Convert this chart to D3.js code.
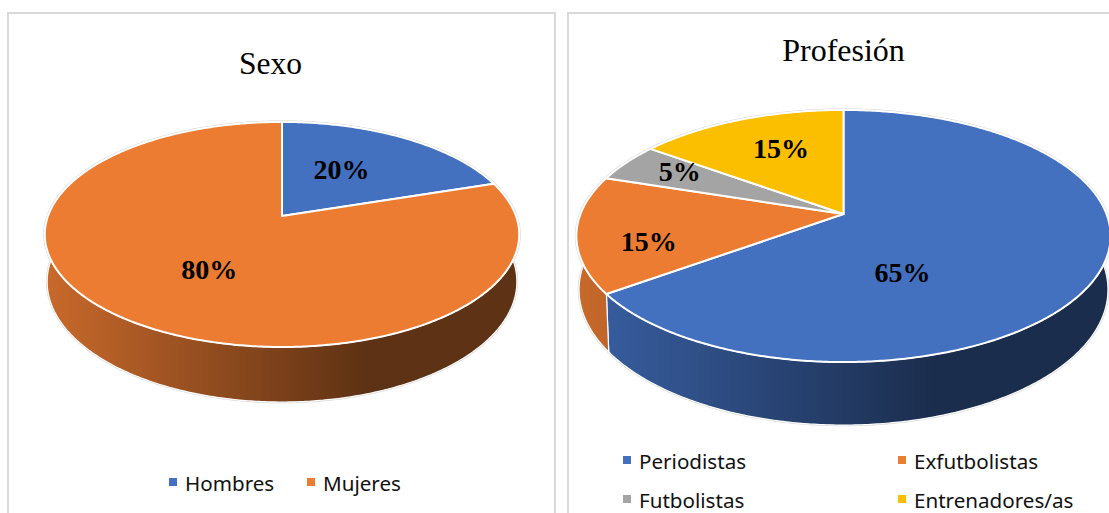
<!DOCTYPE html>
<html>
<head>
<meta charset="utf-8">
<script src="https://cdn.jsdelivr.net/npm/d3@7"></script>
<style>
  html, body { margin: 0; padding: 0; background: #fff; overflow: hidden; }
  svg { display: block; }
</style>
</head>
<body>
<svg></svg>
<script>
const sexoLabels = ["Hombres", "Mujeres"];
const sexoValues = [20, 80];

const profesionLabels = ["Periodistas", "Exfutbolistas", "Futbolistas", "Entrenadores/as"];
const profesionValues = [65, 15, 5, 15];

const colors = ["#4371C0", "#EB7C32", "#A4A4A4", "#FCBF00"];
const colorsSexo = ["#4371C0", "#EB7C32"];

const width = 1109;
const height = 513;

const svg = d3.select("svg")
  .attr("width", width)
  .attr("height", height);

const defs = svg.append("defs");
const percent = d3.format(".0%");

// the two frames, they run off the bottom and the right of the picture
svg.selectAll("rect.frame")
  .data([{x: 8, w: 547}, {x: 568, w: 600}])
  .join("rect")
  .attr("class", "frame")
  .attr("x", d => d.x)
  .attr("y", 13)
  .attr("width", d => d.w)
  .attr("height", 600)
  .attr("fill", "#fff")
  .attr("stroke", "#d9d9d9")
  .attr("stroke-width", 2);

function drawPie(opt) {
  const g = svg.append("g");
  const total = d3.sum(opt.values);
  const pie = d3.pie().sort(null)(opt.values);

  // perspective: the disc is tilted, so the near half looks bigger
  const project = (angle, r, z) => {
    const u = r * Math.sin(angle);
    const v = r * Math.cos(angle);
    const w = 1 + opt.k * v;
    const s = z ? 0.99 : 1;
    return [
      opt.cx + s * opt.b * u / w,
      opt.cy - opt.a * v / w + (z ? opt.depth / w : 0)
    ];
  };

  const sample = (a0, a1) => {
    const n = Math.max(2, Math.ceil((a1 - a0) / 0.01));
    return d3.range(n + 1).map(i => a0 + (a1 - a0) * i / n);
  };
  const line = d3.line();

  const full = sample(0, 2 * Math.PI);

  // faint outline around the whole cake
  g.append("path")
    .attr("d", line(full.map(a => project(a, 1, false))) + "Z")
    .attr("fill", "none")
    .attr("stroke", "#d4d4d4")
    .attr("stroke-width", 3);
  g.append("path")
    .attr("d", line(full.map(a => project(a, 1, true))) + "Z")
    .attr("fill", "#fff")
    .attr("stroke", "#d9d9d9")
    .attr("stroke-width", 2.5);

  // side walls
  pie.forEach((d, i) => {
    const base = d3.rgb(opt.colors[i]);
    const shade = f => d3.rgb(base.r * f, base.g * f, base.b * f).formatHex();
    const id = opt.id + "-wall-" + i;
    const grad = defs.append("linearGradient")
      .attr("id", id)
      .attr("gradientUnits", "userSpaceOnUse")
      .attr("x1", opt.cx - opt.b)
      .attr("x2", opt.cx + opt.b)
      .attr("y1", 0)
      .attr("y2", 0);
    grad.append("stop").attr("offset", 0).attr("stop-color", shade(0.85));
    grad.append("stop").attr("offset", 0.68).attr("stop-color", shade(0.4));
    grad.append("stop").attr("offset", 1).attr("stop-color", shade(0.4));

    const angles = sample(d.startAngle, d.endAngle);
    const pts = angles.map(a => project(a, 1, false))
      .concat(angles.slice().reverse().map(a => project(a, 1, true)));
    g.append("path")
      .attr("d", line(pts) + "Z")
      .attr("fill", "url(#" + id + ")")
      .attr("stroke", "#fff")
      .attr("stroke-width", 1.2);
  });

  // top face
  pie.forEach((d, i) => {
    const pts = [project(0, 0, false)].concat(
      sample(d.startAngle, d.endAngle).map(a => project(a, 1, false)));
    g.append("path")
      .attr("d", line(pts) + "Z")
      .attr("fill", opt.colors[i])
      .attr("stroke", "#fff")
      .attr("stroke-width", 2)
      .attr("stroke-linejoin", "round");
  });

  // value labels: middle of the slice, then moved by hand like in the original
  pie.forEach((d, i) => {
    const p = project((d.startAngle + d.endAngle) / 2, 0.5, false);
    g.append("text")
      .attr("x", p[0] + opt.nudge[i][0])
      .attr("y", p[1] + opt.nudge[i][1])
      .attr("dy", "0.35em")
      .attr("text-anchor", "middle")
      .style("font-family", "'Liberation Serif', serif")
      .style("font-weight", "bold")
      .style("font-size", "28px")
      .attr("fill", "#000")
      .text(percent(d.value / total));
  });

  g.append("text")
    .attr("x", opt.title.x)
    .attr("y", opt.title.y)
    .attr("text-anchor", "middle")
    .style("font-family", "'Liberation Serif', serif")
    .style("font-size", opt.title.size + "px")
    .attr("fill", "#000")
    .text(opt.title.text);

  // legend
  opt.labels.forEach((label, i) => {
    const pos = opt.legend[i];
    g.append("rect")
      .attr("x", pos[0])
      .attr("y", pos[1] - 13)
      .attr("width", 8)
      .attr("height", 8)
      .attr("fill", opt.colors[i]);
    g.append("text")
      .attr("x", pos[0] + 16)
      .attr("y", pos[1])
      .style("font-family", "'Noto Sans', sans-serif")
      .style("font-size", "20.6px")
      .attr("fill", "#111")
      .text(label);
  });
}

drawPie({
  id: "sexo",
  labels: sexoLabels,
  values: sexoValues,
  colors: colorsSexo,
  cx: 282, cy: 216, a: 109.5, b: 234, k: 0.164, depth: 46,
  nudge: [[-5, -5], [1, 6]],
  title: {text: "Sexo", x: 270.5, y: 74, size: 31.5},
  legend: [[169, 491], [307, 491]]
});

drawPie({
  id: "profesion",
  labels: profesionLabels,
  values: profesionValues,
  colors: colors,
  cx: 843.5, cy: 214, a: 122.2, b: 263, k: 0.1746, depth: 52,
  nudge: [[-63, 29], [-63, 18], [-51, -16], [-7, -15.5]],
  title: {text: "Profesión", x: 843.5, y: 61, size: 32},
  legend: [[623, 469], [898, 469], [623, 508], [898, 508]]
});
</script>
</body>
</html>
